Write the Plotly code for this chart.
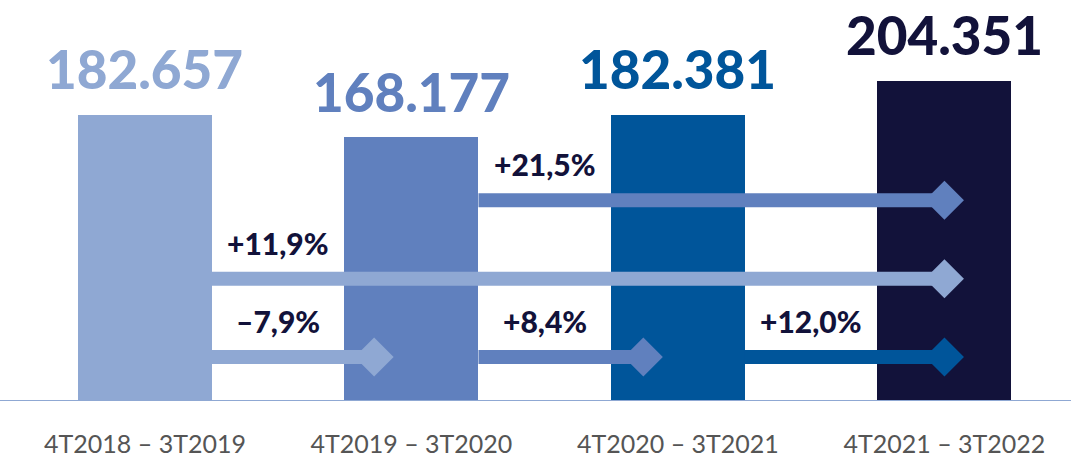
import plotly.graph_objects as go

categories = ["4T2018 – 3T2019", "4T2019 – 3T2020", "4T2020 – 3T2021", "4T2021 – 3T2022"]
values = [182.657, 168.177, 182.381, 204.351]
value_labels = ["182.657", "168.177", "182.381", "204.351"]
bar_colors = ["#8fa8d3", "#6080be", "#00559a", "#12123a"]

# growth arrows: start bar index, end position on the category axis, level, label
arrow_from = [1, 0, 0, 1, 2]
arrow_to = [3.0, 3.0, 0.86, 1.87, 3.0]
arrow_level = [128, 78, 28, 28, 28]
arrow_labels = ["+21,5%", "+11,9%", "–7,9%", "+8,4%", "+12,0%"]

BAR_W = 0.503
x_idx = list(range(len(categories)))

fig = go.Figure()
fig.add_trace(go.Bar(
    x=x_idx, y=values, width=BAR_W,
    marker=dict(color=bar_colors, line=dict(width=0)),
    hoverinfo="skip", showlegend=False,
))

for f, t, lv, lab in zip(arrow_from, arrow_to, arrow_level, arrow_labels):
    col = bar_colors[f]
    x0 = f + BAR_W / 2
    fig.add_trace(go.Scatter(
        x=[x0, t], y=[lv, lv], mode="lines",
        line=dict(color=col, width=14), hoverinfo="skip", showlegend=False,
    ))
    fig.add_trace(go.Scatter(
        x=[t], y=[lv], mode="markers",
        marker=dict(symbol="diamond", size=30, color=col, line=dict(width=0)),
        hoverinfo="skip", showlegend=False,
    ))
    fig.add_annotation(
        x=f + 0.5, y=lv, text=lab, showarrow=False, yanchor="middle",
        yshift=36, font=dict(family="Lato", size=30, color="#12123a", weight=900),
    )

for i, (v, lab, col) in enumerate(zip(values, value_labels, bar_colors)):
    fig.add_annotation(
        x=i, y=v, text=lab, showarrow=False, yanchor="middle",
        yshift=46, font=dict(family="Lato", size=53, color=col, weight=900),
    )

fig.add_shape(type="line", xref="paper", x0=0, x1=1, yref="y", y0=0, y1=0,
              line=dict(color="#8fa8d3", width=2), layer="above")

fig.update_layout(
    width=1071, height=458,
    margin=dict(l=0, r=0, t=0, b=52),
    plot_bgcolor="white", paper_bgcolor="white",
    xaxis=dict(range=[-0.544, 3.475], tickvals=x_idx, ticktext=categories,
               showgrid=False, zeroline=False, showline=False, ticks="",
               ticklabelstandoff=26,
               tickfont=dict(family="Lato", size=25, color="#555555", weight=400)),
    yaxis=dict(range=[0, 255.7], visible=False, showgrid=False, zeroline=False),
    bargap=0,
)

fig.write_html("out.html", config={"displayModeBar": False})
